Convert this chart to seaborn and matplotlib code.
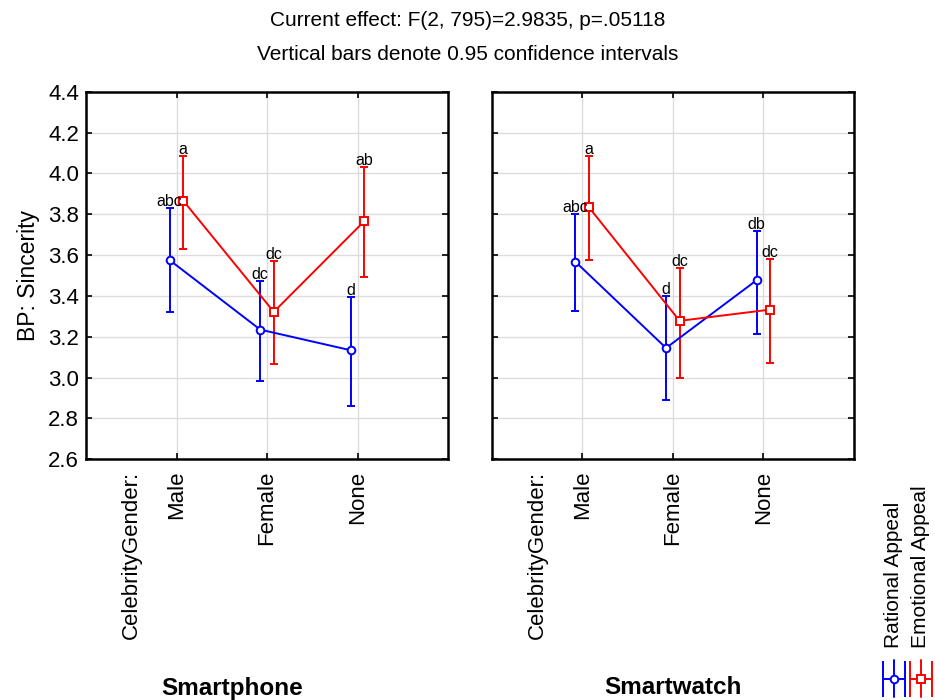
import numpy as np
import pandas as pd
import matplotlib
matplotlib.use("Agg")
import matplotlib.pyplot as plt
import seaborn as sns

# ---- data: cell means and 0.95 confidence limits (order: Male, Female, None)
platforms = ["Smartphone", "Smartwatch"]
genders = ["Male", "Female", "None"]
appeals = ["Rational Appeal", "Emotional Appeal"]

phone_rational_mean = [3.575, 3.235, 3.134]
phone_rational_lo = [3.322, 2.983, 2.861]
phone_rational_hi = [3.831, 3.472, 3.394]
phone_emotional_mean = [3.866, 3.322, 3.766]
phone_emotional_lo = [3.632, 3.065, 3.493]
phone_emotional_hi = [4.085, 3.572, 4.032]

watch_rational_mean = [3.567, 3.145, 3.477]
watch_rational_lo = [3.325, 2.889, 3.212]
watch_rational_hi = [3.800, 3.399, 3.719]
watch_emotional_mean = [3.833, 3.278, 3.333]
watch_emotional_lo = [3.578, 2.998, 3.072]
watch_emotional_hi = [4.085, 3.537, 3.580]

# homogeneous-group letters from the post-hoc test
phone_rational_groups = ["abc", "dc", "d"]
phone_emotional_groups = ["a", "dc", "ab"]
watch_rational_groups = ["abc", "d", "db"]
watch_emotional_groups = ["a", "dc", "dc"]

y_ticks = [2.6, 2.8, 3.0, 3.2, 3.4, 3.6, 3.8, 4.0, 4.2, 4.4]

rows = []
series = {
    ("Smartphone", "Rational Appeal"): (phone_rational_mean, phone_rational_lo, phone_rational_hi, phone_rational_groups),
    ("Smartphone", "Emotional Appeal"): (phone_emotional_mean, phone_emotional_lo, phone_emotional_hi, phone_emotional_groups),
    ("Smartwatch", "Rational Appeal"): (watch_rational_mean, watch_rational_lo, watch_rational_hi, watch_rational_groups),
    ("Smartwatch", "Emotional Appeal"): (watch_emotional_mean, watch_emotional_lo, watch_emotional_hi, watch_emotional_groups),
}
for (plat, app), (m, lo, hi, grp) in series.items():
    for g, mv, lv, hv, gr in zip(genders, m, lo, hi, grp):
        rows.append(dict(platform=plat, appeal=app, gender=g, mean=mv, lo=lv, hi=hv, group=gr))
df = pd.DataFrame(rows)

colors = {"Rational Appeal": "#0000ff", "Emotional Appeal": "#ff0000"}
markers = {"Rational Appeal": "o", "Emotional Appeal": "s"}

sns.set_style("white")
plt.rcParams["font.family"] = ["Liberation Sans", "DejaVu Sans"]
plt.rcParams["font.size"] = 15
for key in ("text.color", "axes.labelcolor", "xtick.color", "ytick.color", "axes.edgecolor"):
    plt.rcParams[key] = "black"

W, H = 935, 700
fig = plt.figure(figsize=(W / 100, H / 100), dpi=100)

def fx(px):
    return px / W

def fy(py):
    return 1 - py / H

ax_top, ax_bot = 91.7, 459.3
panels = [(86.0, 448.0), (491.7, 854.0)]
axes = []
for (x0, x1) in panels:
    axes.append(fig.add_axes([fx(x0), fy(ax_bot), fx(x1 - x0), (ax_bot - ax_top) / H]))

lw = 1.4
for ax, plat in zip(axes, platforms):
    sub = df[df["platform"] == plat]
    sns.pointplot(
        data=sub, x="gender", y="mean", hue="appeal",
        order=genders, hue_order=appeals,
        palette=colors, markers=[markers[a] for a in appeals],
        linestyles=["-", "-"], dodge=0.15, errorbar=None,
        legend=False, ax=ax, linewidth=lw, markersize=5.5,
        markeredgewidth=lw,
    )
    lines = list(ax.lines)
    for line, app in zip(lines, appeals):
        line.set_markerfacecolor("white")
        line.set_zorder(4)
        d = sub[sub["appeal"] == app].set_index("gender").loc[genders]
        xs = np.asarray(line.get_xdata(), dtype=float)
        ax.errorbar(
            xs, d["mean"], yerr=[d["mean"] - d["lo"], d["hi"] - d["mean"]],
            fmt="none", ecolor=colors[app], elinewidth=lw,
            capsize=2.6, capthick=lw, zorder=3,
        )
        for x, top, lab in zip(xs, d["hi"], d["group"]):
            ax.annotate(lab, xy=(x, top), xytext=(0, 1.5), textcoords="offset points",
                        ha="center", va="baseline", fontsize=11.5, color="black",
                        zorder=5)

    ax.set_xlim(-1, 3)
    ax.set_ylim(2.6, 4.4)
    ax.set_yticks(y_ticks)
    ax.set_xticks(range(len(genders)))
    ax.set_xticklabels(genders, rotation=90, va="top", ha="center")
    ax.set_xlabel("")
    ax.set_ylabel("")
    ax.grid(True, color="#dcdcdc", linewidth=1.0, zorder=0)
    ax.set_axisbelow(True)
    for s in ax.spines.values():
        s.set_visible(True)
        s.set_color("black")
        s.set_linewidth(1.8)
    ax.tick_params(axis="both", direction="in", length=4, width=1.2, color="black",
                   labelcolor="black", top=True, right=True, left=True, bottom=True,
                   labelsize=16)
    ax.tick_params(axis="x", pad=8)
    ax.tick_params(axis="y", pad=5)
    ax.annotate("CelebrityGender:", xy=(-0.5, 0), xycoords=("data", "axes fraction"),
                xytext=(0, -8.5), textcoords="offset points", rotation=90,
                ha="center", va="top", fontsize=16)

axes[1].tick_params(axis="y", labelleft=False)
axes[0].set_ylabel("BP: Sincerity", fontsize=16.5, labelpad=6)

# titles
fig.text(0.5, fy(20), "Current effect: F(2, 795)=2.9835, p=.05118", ha="center", va="center", fontsize=15)
fig.text(0.5, fy(55), "Vertical bars denote 0.95 confidence intervals", ha="center", va="center", fontsize=15)

# panel labels
fig.text(fx(231.7), fy(688), "Smartphone", ha="center", va="center", fontsize=17.5, fontweight="bold")
fig.text(fx(673), fy(688), "Smartwatch", ha="center", va="center", fontsize=17.5, fontweight="bold")

# legend: rotated text above rotated error-bar glyphs
leg_ax = fig.add_axes([fx(875), 0, fx(60), 42 / H])
leg_ax.set_xlim(0, 60)
leg_ax.set_ylim(0, 42)
leg_ax.axis("off")
for i, app in enumerate(appeals):
    cx = 18.7 + 27.3 * i
    fig.text(fx(875 + cx), fy(648), app, rotation=90, ha="center", va="bottom", fontsize=15)
    leg_ax.plot([cx, cx], [3, 40], color=colors[app], lw=lw)
    leg_ax.errorbar([cx], [21], xerr=[10.8], fmt=markers[app], color=colors[app],
                    mfc="white", mec=colors[app], ms=5.5, mew=lw, elinewidth=lw,
                    capsize=13, capthick=lw)

fig.savefig("out.png", dpi=100)
